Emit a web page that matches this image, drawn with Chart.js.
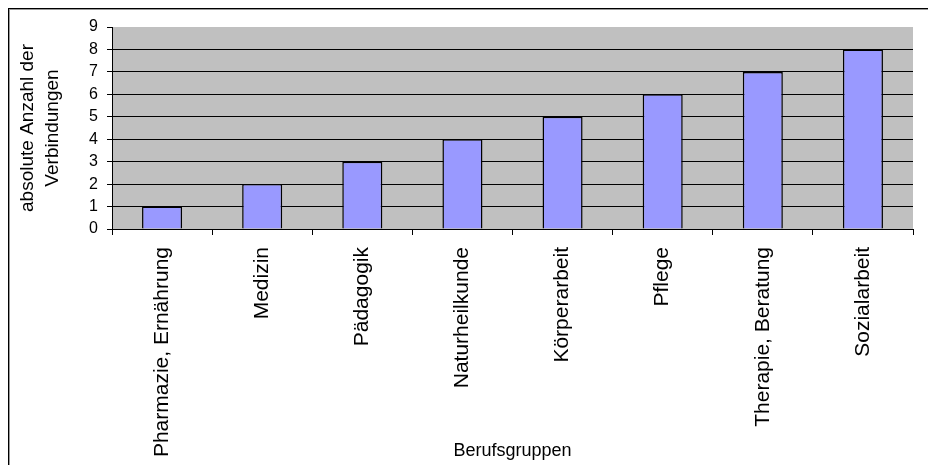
<!DOCTYPE html>
<html>
<head>
<meta charset="utf-8">
<script src="https://cdn.jsdelivr.net/npm/chart.js@4"></script>
<style>
  html, body { margin: 0; padding: 0; background: #fff; overflow: hidden; }
  #wrap { position: relative; width: 928px; height: 465px; }
  #frame { position: absolute; left: 8px; top: 8px; width: 1000px; height: 1000px;
           border-left: 1px solid #000; border-top: 1px solid #000;
           box-shadow: inset 1px 1px 0 #999; pointer-events: none; }
  canvas { position: absolute; left: 0; top: 0; }
</style>
</head>
<body>
<div id="wrap">
  <canvas id="c" width="928" height="465"></canvas>
  <div id="frame"></div>
</div>
<script>
const categories = ["Pharmazie, Ernährung", "Medizin", "Pädagogik", "Naturheilkunde",
                    "Körperarbeit", "Pflege", "Therapie, Beratung", "Sozialarbeit"];
const values = [1, 2, 3, 4, 5, 6, 7, 8];
const yTitle = ["absolute Anzahl der", "Verbindungen"];
const xTitle = "Berufsgruppen";
const yMin = 0, yMax = 9, yStep = 1;

const FONT = "'Liberation Sans', Arial, sans-serif";

const plotBg = {
  id: 'plotBg',
  beforeDraw(chart) {
    const {ctx, chartArea: a} = chart;
    ctx.save();
    ctx.fillStyle = '#c0c0c0';
    ctx.fillRect(a.left, a.top, a.right - a.left, a.bottom - a.top);
    ctx.restore();
  }
};

new Chart(document.getElementById('c'), {
  type: 'bar',
  data: {
    labels: categories,
    datasets: [{
      data: values,
      backgroundColor: '#9999ff',
      borderColor: '#000',
      borderWidth: 1.5,
      barPercentage: 0.4,
      categoryPercentage: 1.0
    }]
  },
  options: {
    responsive: false,
    animation: false,
    devicePixelRatio: 1,
    layout: { padding: { left: 0, top: 27, right: 15, bottom: 0 } },
    plugins: { legend: { display: false }, tooltip: { enabled: false } },
    scales: {
      x: {
        grid: { display: true, drawOnChartArea: false, drawTicks: true, tickLength: 6,
                color: '#000', tickColor: '#000', offset: true },
        border: { display: true, color: '#000', width: 1 },
        ticks: { maxRotation: 90, minRotation: 90, autoSkip: false, padding: 12,
                 color: '#000', font: { family: FONT, size: 21 } },
        title: { display: true, text: xTitle, color: '#000',
                 font: { family: FONT, size: 18 }, padding: { top: 0, bottom: 3 } },
        afterFit(scale) { scale.height = 236; }
      },
      y: {
        min: yMin, max: yMax,
        grid: { drawTicks: true, tickLength: 5, tickColor: '#000',
                color: (c) => (c.tick && c.tick.value === yMax) ? 'rgba(0,0,0,0)' : '#000',
                lineWidth: 1 },
        border: { display: true, color: '#000', width: 1 },
        ticks: { stepSize: yStep, padding: 9, color: '#000',
                 font: { family: FONT, size: 16 } },
        title: { display: true, text: yTitle, color: '#000',
                 font: { family: FONT, size: 19, lineHeight: 1.3 },
                 padding: { top: 15.5, bottom: 0 } },
        afterFit(scale) { scale.width = 112; }
      }
    }
  },
  plugins: [plotBg]
});
</script>
</body>
</html>
